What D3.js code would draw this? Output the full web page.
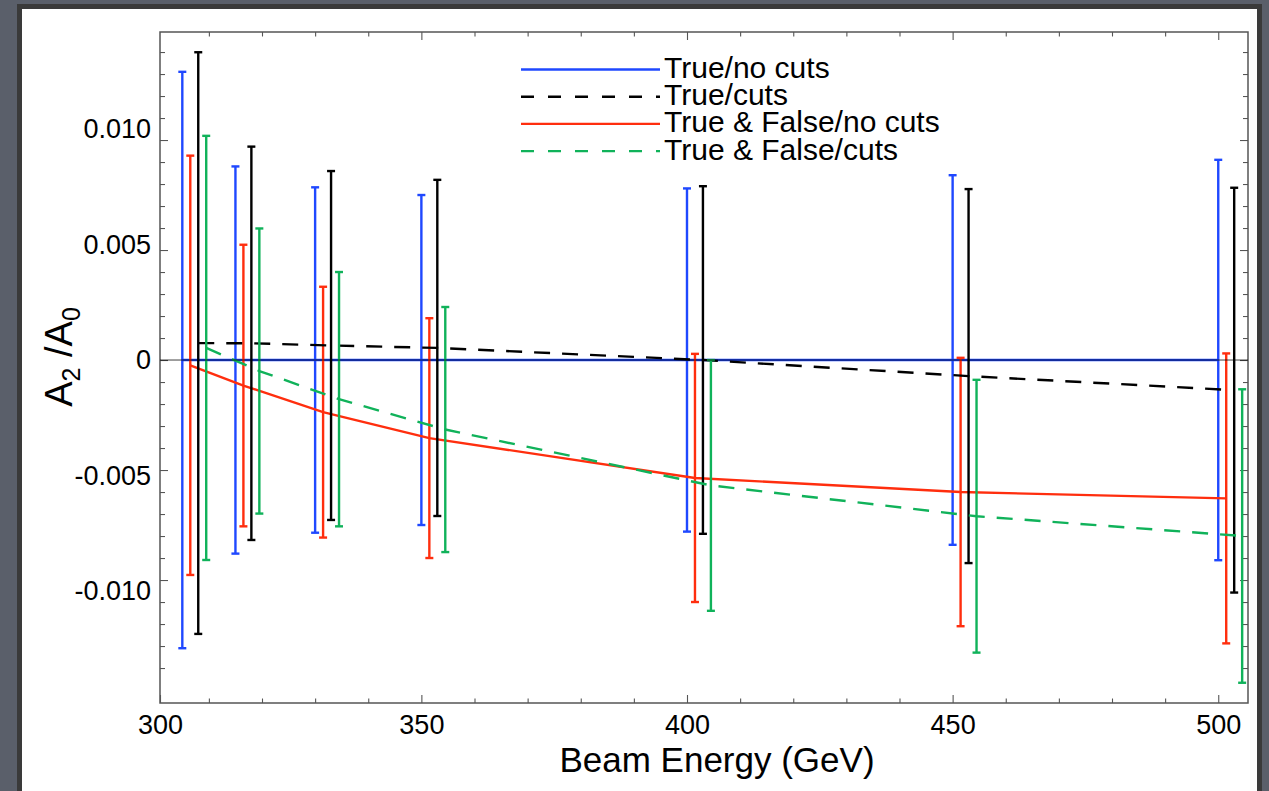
<!DOCTYPE html>
<html>
<head>
<meta charset="utf-8">
<script src="https://cdn.jsdelivr.net/npm/d3@7"></script>
<style>
  html, body { margin: 0; padding: 0; background: #5a5f6a; }
  svg { display: block; font-family: "Liberation Sans", Arial, sans-serif; }
</style>
</head>
<body>
<svg id="chart" width="1269" height="791"></svg>
<script>
// ---------------- data ----------------
const energies = [305, 315, 330, 350, 400, 450, 500];

const trueNoCutsMean = [0, 0, 0, 0, 0, 0, 0];
const trueNoCutsErr  = [0.0131, 0.0088, 0.00785, 0.0075, 0.0078, 0.0084, 0.0091];

const trueCutsMean = [0.00077, 0.00076, 0.00066, 0.00055, 0.0000, -0.00073, -0.00137];
const trueCutsErr  = [0.01322, 0.00894, 0.00793, 0.00764, 0.0079, 0.0085, 0.0092];

const tfNoCutsMean = [-0.00024, -0.00116, -0.00237, -0.00355, -0.00536, -0.0060, -0.00629];
const tfNoCutsErr  = [0.00953, 0.0064, 0.0057, 0.00545, 0.00564, 0.0061, 0.00659];

const tfCutsMean = [0.00055, -0.0005, -0.00178, -0.00316, -0.0057, -0.0071, -0.0080];
const tfCutsErr  = [0.00964, 0.00648, 0.00578, 0.00557, 0.0057, 0.0062, 0.00667];

const seriesNames = ["True/no cuts", "True/cuts", "True & False/no cuts", "True & False/cuts"];
const seriesOffsets = [0, 3, 1.5, 4.5];   // GeV shift of each series' points

const xTickValues = [300, 350, 400, 450, 500];
const xTickLabels = ["300", "350", "400", "450", "500"];
const yTickValues = [-0.010, -0.005, 0, 0.005, 0.010];
const yTickLabels = ["-0.010", "-0.005", "0", "0.005", "0.010"];

// ---------------- styling ----------------
const colors = ["#1f48ff", "#000000", "#ff2e0e", "#10b25a"];
const dashes = [null, "16,12", null, "16,12"];

const series = seriesNames.map((name, i) => ({
  name,
  color: colors[i],
  dash: dashes[i],
  offset: seriesOffsets[i],
  mean: [trueNoCutsMean, trueCutsMean, tfNoCutsMean, tfCutsMean][i],
  err:  [trueNoCutsErr,  trueCutsErr,  tfNoCutsErr,  tfCutsErr][i]
}));

const svg = d3.select("#chart");

// slide-like background panel
svg.append("rect").attr("x", 0).attr("y", 0).attr("width", 1269).attr("height", 791).attr("fill", "#5a5f6a");
svg.append("rect").attr("x", 17).attr("y", 4).attr("width", 1245).attr("height", 800).attr("fill", "#3a3a3a");
svg.append("rect").attr("x", 22).attr("y", 9).attr("width", 1235).attr("height", 800).attr("fill", "#ffffff");

const L = 160, R = 1248, T = 32, B = 703;

const x = d3.scaleLinear().domain([300.8, 505.6]).range([L, R]).clamp(true);
const y = d3.scaleLinear().domain([-0.01559, 0.01491]).range([B, T]);

const minorX = d3.range(310, 506, 10).filter(v => v % 50 !== 0);
const minorY = d3.range(-15, 15).map(v => v / 1000).filter(v => Math.abs(v * 1000) % 5 !== 0);

function styleAxis(g) {
  g.select(".domain").remove();
  g.selectAll(".tick line").attr("stroke", "#555").attr("stroke-width", 1.1);
  g.selectAll(".tick text").attr("fill", "#000").attr("font-size", 27)
    .attr("font-family", "'Liberation Sans', Arial, sans-serif");
}

// bottom axis
svg.append("g").attr("transform", `translate(0,${B})`)
  .call(d3.axisBottom(x).tickValues(xTickValues).tickSize(-8).tickPadding(12)
        .tickFormat((d, i) => xTickLabels[i]))
  .call(styleAxis);
svg.append("g").attr("transform", `translate(0,${B})`)
  .call(d3.axisBottom(x).tickValues(minorX).tickSize(-4.5).tickFormat(""))
  .call(styleAxis);
// top axis
svg.append("g").attr("transform", `translate(0,${T})`)
  .call(d3.axisTop(x).tickValues(xTickValues.filter(v => v > 300)).tickSize(-8).tickFormat(""))
  .call(styleAxis);
svg.append("g").attr("transform", `translate(0,${T})`)
  .call(d3.axisTop(x).tickValues(minorX).tickSize(-4.5).tickFormat(""))
  .call(styleAxis);
// left axis (labels in the original are spread slightly wider than their ticks)
svg.append("g").attr("transform", `translate(${L},0)`)
  .call(d3.axisLeft(y).tickValues(yTickValues).tickSize(-8).tickPadding(9)
        .tickFormat((d, i) => yTickLabels[i]))
  .call(styleAxis)
  .call(g => g.selectAll(".tick text").attr("transform", d => `translate(0,${-d * 1100})`));
svg.append("g").attr("transform", `translate(${L},0)`)
  .call(d3.axisLeft(y).tickValues(minorY).tickSize(-5).tickFormat(""))
  .call(styleAxis);
// right axis
svg.append("g").attr("transform", `translate(${R},0)`)
  .call(d3.axisRight(y).tickValues(yTickValues).tickSize(-8).tickFormat(""))
  .call(styleAxis);
svg.append("g").attr("transform", `translate(${R},0)`)
  .call(d3.axisRight(y).tickValues(minorY).tickSize(-5).tickFormat(""))
  .call(styleAxis);

// frame
svg.append("rect").attr("x", L).attr("y", T).attr("width", R - L).attr("height", B - T)
  .attr("fill", "none").attr("stroke", "#555").attr("stroke-width", 1.5);

// data
const plot = svg.append("g");
const line = d3.line().x(d => x(d.e)).y(d => y(d.m));

const drawOrder = [0, 2, 1, 3];
drawOrder.forEach(si => {
  const s = series[si];
  const pts = energies.map((e, i) => ({ e: e + s.offset, m: s.mean[i], err: s.err[i] }));
  const g = plot.append("g");
  // error bars
  pts.forEach(p => {
    const cx = x(p.e);
    g.append("line").attr("x1", cx).attr("x2", cx)
      .attr("y1", y(p.m - p.err)).attr("y2", y(p.m + p.err))
      .attr("stroke", s.color).attr("stroke-width", 2.4);
    [p.m - p.err, p.m + p.err].forEach(v => {
      g.append("line").attr("x1", cx - 4).attr("x2", cx + 4)
        .attr("y1", y(v)).attr("y2", y(v))
        .attr("stroke", s.color).attr("stroke-width", 2.4);
    });
  });
  g.append("path").datum(pts).attr("d", line)
    .attr("fill", "none").attr("stroke", s.color).attr("stroke-width", 2.4)
    .attr("stroke-dasharray", s.dash);
});

// zero axis line
svg.append("line").attr("x1", L).attr("x2", R).attr("y1", y(0)).attr("y2", y(0))
  .attr("stroke", "#000").attr("stroke-width", 1).attr("stroke-opacity", 0.75);

// legend
const legendOrder = [0, 1, 2, 3];
const leg = svg.append("g");
legendOrder.forEach((si, k) => {
  const s = series[si];
  const ly = 69.5 + k * 27.2;
  leg.append("line").attr("x1", 521).attr("x2", 660).attr("y1", ly).attr("y2", ly)
    .attr("stroke", s.color).attr("stroke-width", 2.4)
    .attr("stroke-dasharray", s.dash ? "13,14" : null);
  leg.append("text").attr("x", 664).attr("y", ly + 8.5)
    .attr("font-size", 30).attr("fill", "#000").text(s.name);
});

// axis titles
svg.append("text").attr("x", 717).attr("y", 772).attr("text-anchor", "middle")
  .attr("font-size", 35).attr("fill", "#000").text("Beam Energy (GeV)");

const yt = svg.append("text").attr("transform", "translate(72,357) rotate(-90)")
  .attr("text-anchor", "middle").attr("font-size", 38).attr("fill", "#000");
yt.append("tspan").text("A");
yt.append("tspan").attr("font-size", 25).attr("dy", 8).text("2");
yt.append("tspan").attr("dy", -8).text(" /A");
yt.append("tspan").attr("font-size", 25).attr("dy", 8).text("0");
</script>
</body>
</html>
